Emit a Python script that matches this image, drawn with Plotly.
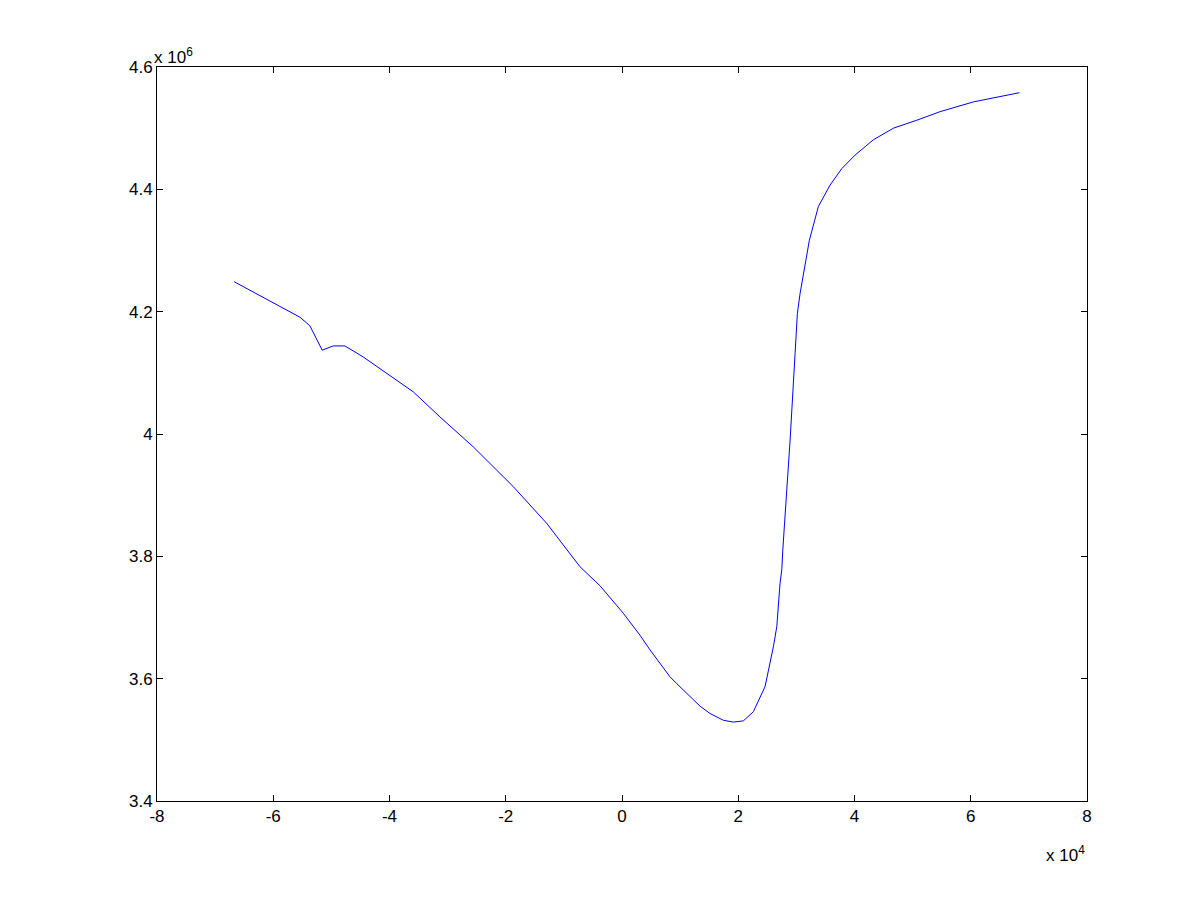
import plotly.graph_objects as go

# x in units of 1e4, y in units of 1e6
x_1e4 = [-6.673, -5.886, -5.542, -5.370, -5.158, -4.969, -4.768, -4.453, -3.936,
         -3.592, -3.133, -2.559, -1.871, -1.296, -0.723, -0.379, 0.022, 0.310,
         0.482, 0.826, 0.941, 1.343, 1.515, 1.744, 1.916, 2.088, 2.260, 2.461,
         2.604, 2.663, 2.719, 2.749, 2.766, 2.892, 2.978, 3.017, 3.064, 3.150,
         3.224, 3.379, 3.580, 3.782, 4.010, 4.325, 4.670, 5.072, 5.473, 6.047,
         6.391, 6.838]
y_1e6 = [4.249, 4.208, 4.191, 4.177, 4.137, 4.144, 4.144, 4.126, 4.091,
         4.069, 4.028, 3.979, 3.914, 3.854, 3.783, 3.752, 3.707, 3.671,
         3.647, 3.603, 3.592, 3.555, 3.543, 3.532, 3.529, 3.531, 3.546, 3.587,
         3.652, 3.685, 3.756, 3.778, 3.810, 3.990, 4.132, 4.197, 4.230, 4.274,
         4.317, 4.372, 4.407, 4.434, 4.456, 4.481, 4.500, 4.513, 4.527, 4.543,
         4.550, 4.558]

x_ticks = [-8, -6, -4, -2, 0, 2, 4, 6, 8]
x_tick_text = ["-8", "-6", "-4", "-2", "0", "2", "4", "6", "8"]
y_ticks = [3.4, 3.6, 3.8, 4.0, 4.2, 4.4, 4.6]
y_tick_text = ["3.4", "3.6", "3.8", "4", "4.2", "4.4", "4.6"]

fig = go.Figure()
fig.add_trace(go.Scatter(x=x_1e4, y=y_1e6, mode="lines",
                         line=dict(color="#0000ff", width=1), showlegend=False))

font = dict(family="Liberation Sans, Arial, sans-serif", size=17, color="black")
axis_common = dict(showline=True, linecolor="black", linewidth=1, mirror="ticks",
                   ticks="inside", ticklen=6, tickcolor="black", showgrid=False,
                   zeroline=False, tickfont=font)
fig.update_xaxes(range=[-8, 8], tickvals=x_ticks, ticktext=x_tick_text, **axis_common)
fig.update_yaxes(range=[3.4, 4.6], tickvals=y_ticks, ticktext=y_tick_text, **axis_common)

fig.add_annotation(text="x 10<sup>6</sup>", xref="paper", yref="paper", x=0, y=1,
                   xanchor="left", yanchor="bottom", showarrow=False, font=font,
                   xshift=-5, yshift=-2)
fig.add_annotation(text="x 10<sup>4</sup>", xref="paper", yref="paper", x=1, y=0,
                   xanchor="right", yanchor="top", showarrow=False, font=font,
                   yshift=-40)

fig.update_layout(width=1201, height=901, paper_bgcolor="white", plot_bgcolor="white",
                  margin=dict(l=149, r=122, t=59, b=108), font=font)
fig.write_html("out.html")
